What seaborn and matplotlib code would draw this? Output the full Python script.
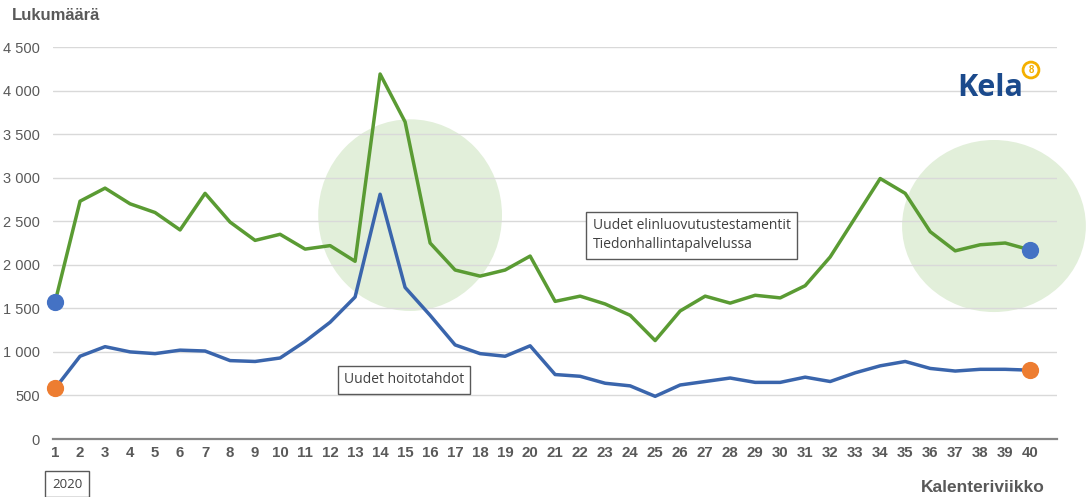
import pandas as pd
import numpy as np
import matplotlib
matplotlib.use("Agg")
import matplotlib.pyplot as plt
from matplotlib.patches import Ellipse
from matplotlib.ticker import FuncFormatter
import seaborn as sns

# --- data ---
weeks = list(range(1, 41))
testamentit = [1570, 2730, 2880, 2700, 2600, 2400, 2820, 2490, 2280, 2350,
               2180, 2220, 2040, 4190, 3640, 2250, 1940, 1870, 1940, 2100,
               1580, 1640, 1550, 1420, 1130, 1470, 1640, 1560, 1650, 1620,
               1760, 2090, 2540, 2990, 2820, 2380, 2160, 2230, 2250, 2170]
hoitotahdot = [580, 950, 1060, 1000, 980, 1020, 1010, 900, 890, 930,
               1120, 1340, 1630, 2810, 1740, 1420, 1080, 980, 950, 1070,
               740, 720, 640, 610, 490, 620, 660, 700, 650, 650,
               710, 660, 760, 840, 890, 810, 780, 800, 800, 790]
series_names = ["Uudet elinluovutustestamentit\nTiedonhallintapalvelussa",
                "Uudet hoitotahdot"]
y_ticks = [0, 500, 1000, 1500, 2000, 2500, 3000, 3500, 4000, 4500]

df = pd.DataFrame({
    "Kalenteriviikko": weeks * 2,
    "Lukumäärä": testamentit + hoitotahdot,
    "Sarja": [series_names[0]] * len(weeks) + [series_names[1]] * len(weeks),
})

sns.set_theme(style="white")
plt.rcParams["font.family"] = ["Liberation Sans", "DejaVu Sans"]

GREEN = "#5A9B33"
BLUE = "#3A65AC"
DOT_BLUE = "#4472C4"
DOT_ORANGE = "#ED7D31"
GRAY = "#595959"

fig = plt.figure(figsize=(10.89, 4.97), dpi=100)
ax = fig.add_axes([0.0487, 0.1167, 0.9219, 0.7887])

# highlight circles behind the lines
ax.add_patch(Ellipse((15.2, 2570), width=7.35, height=2200,
                     facecolor="#E2EFDA", edgecolor="none", zorder=0, clip_on=False))
ax.add_patch(Ellipse((38.55, 2445), width=7.35, height=1975,
                     facecolor="#E2EFDA", edgecolor="none", zorder=0, clip_on=False))

sns.lineplot(data=df, x="Kalenteriviikko", y="Lukumäärä", hue="Sarja",
             palette={series_names[0]: GREEN, series_names[1]: BLUE},
             linewidth=2.5, legend=False, ax=ax, zorder=3)

# endpoint dots
ax.scatter([weeks[0], weeks[-1]], [testamentit[0], testamentit[-1]],
           s=130, color=DOT_BLUE, zorder=5, clip_on=False)
ax.scatter([weeks[0], weeks[-1]], [hoitotahdot[0], hoitotahdot[-1]],
           s=130, color=DOT_ORANGE, zorder=5, clip_on=False)

ax.set_xlim(0.92, 41.07)
ax.set_ylim(0, 4500)
ax.set_yticks(y_ticks)
ax.yaxis.set_major_formatter(FuncFormatter(lambda v, p: f"{int(v):,}".replace(",", " ")))
ax.set_xticks(weeks)
ax.grid(axis="y", color="#D9D9D9", linewidth=1)
ax.set_axisbelow(True)
for s in ["top", "right", "left"]:
    ax.spines[s].set_visible(False)
ax.spines["bottom"].set_color("#868686")
ax.spines["bottom"].set_linewidth(1.6)
ax.spines["bottom"].set_zorder(2)
ax.tick_params(axis="y", length=0, pad=9.5, labelsize=10.5, labelcolor=GRAY)
ax.tick_params(axis="x", length=0, pad=5, labelsize=10.8, labelcolor=GRAY)
for lbl in ax.get_xticklabels():
    lbl.set_fontweight("bold")
ax.set_xlabel("")
ax.set_ylabel("")

# titles
fig.text(12 / 1089, 1 - 16 / 497, "Lukumäärä", fontsize=12, fontweight="bold",
         color=GRAY, va="center", ha="left")
fig.text(1045 / 1089, 1 - 487 / 497, "Kalenteriviikko", fontsize=12.5,
         fontweight="bold", color=GRAY, va="center", ha="right")
fig.text(67 / 1089, 1 - 484 / 497, "2020", fontsize=9.5, color="#404040",
         family=["Open Sans", "DejaVu Sans"], va="center", ha="center",
         bbox=dict(boxstyle="square,pad=0.5", facecolor="white",
                   edgecolor="#595959", linewidth=1))

# series labels
box = dict(boxstyle="square,pad=0.45", facecolor="white", edgecolor="#595959", linewidth=1)
ax.text(22.5, 2340, series_names[0], fontsize=10, color="#404040",
        family=["Open Sans", "DejaVu Sans"], va="center", ha="left",
        linespacing=1.4, bbox=box, zorder=6)
ax.text(12.55, 680, series_names[1], fontsize=10, color="#404040",
        family=["Open Sans", "DejaVu Sans"], va="center", ha="left",
        bbox=box, zorder=6)

# Kela logo
fig.text(990 / 1089, 1 - 88 / 497, "Kela", fontsize=22, fontweight="bold",
         color="#1B4A8C", va="center", ha="center",
         family=["Open Sans", "DejaVu Sans"])
fig.text(1031 / 1089, 1 - 70 / 497, "8", fontsize=7, fontweight="bold",
         color="#F4B000", va="center", ha="center",
         bbox=dict(boxstyle="circle,pad=0.3", facecolor="white",
                   edgecolor="#F4B000", linewidth=2))

fig.savefig("out.png", dpi=100, facecolor="white")
